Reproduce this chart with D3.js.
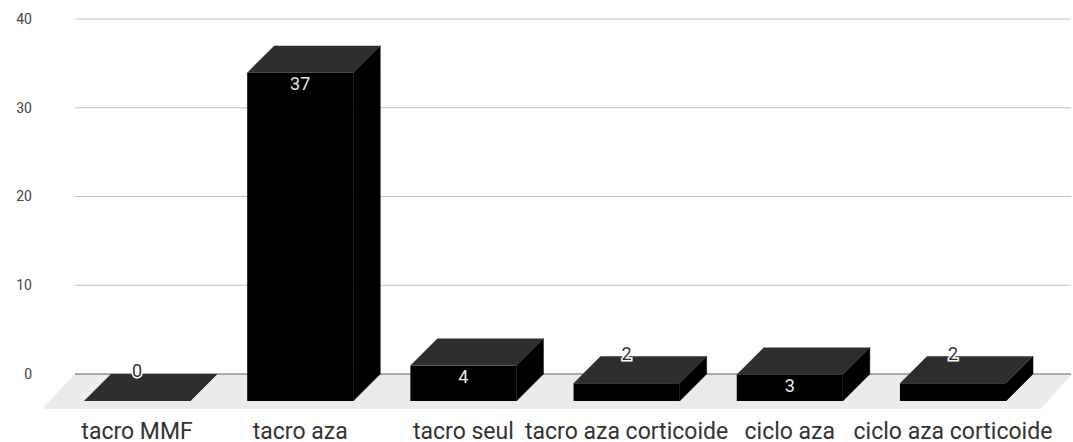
<!DOCTYPE html>
<html>
<head>
<meta charset="utf-8">
<script src="https://cdn.jsdelivr.net/npm/d3@7"></script>
<style>
  html, body { margin: 0; padding: 0; background: #fff; }
  svg { display: block; }
  text { font-family: Roboto, sans-serif; }
</style>
</head>
<body>
<script>
const categories = ["tacro MMF", "tacro aza", "tacro seul", "tacro aza corticoide", "ciclo aza", "ciclo aza corticoide"];
const values = [0, 37, 4, 2, 3, 2];
const yTicks = [0, 10, 20, 30, 40];

const width = 1073;
const height = 442;
const depth = 27; // 3d offset of the back wall
const floorY = 401;

const svg = d3.select("body").append("svg")
  .attr("width", width)
  .attr("height", height);

const x = d3.scaleBand()
  .domain(categories)
  .range([84, 1006])
  .paddingInner(0.35)
  .paddingOuter(0);

// front plane of the bars, the wall is the same scale moved by depth
const y = d3.scaleLinear().domain([0, 40]).range([floorY, floorY - 355]);

// floor
const floorPath = d3.path();
floorPath.moveTo(42, floorY + 8);
floorPath.lineTo(42 + 33, floorY - depth);
floorPath.lineTo(1072, floorY - depth);
floorPath.lineTo(1041, floorY + 8);
floorPath.closePath();
svg.append("path").attr("d", floorPath.toString()).attr("fill", "#ebebeb");

// gridlines and tick labels
const grid = svg.append("g");
grid.selectAll("line")
  .data(yTicks)
  .join("line")
  .attr("x1", 75)
  .attr("x2", 1071)
  .attr("y1", (d) => y(d) - depth)
  .attr("y2", (d) => y(d) - depth)
  .attr("stroke", (d) => (d === 0 ? "#5f5f5f" : "#c0c0c0"))
  .attr("stroke-width", 1);

grid.selectAll("text")
  .data(yTicks)
  .join("text")
  .attr("x", 32)
  .attr("y", (d) => y(d) - depth)
  .attr("dy", "0.35em")
  .attr("text-anchor", "end")
  .attr("font-size", 14)
  .attr("fill", "#444")
  .text((d) => d);

// bars
const bars = svg.append("g")
  .selectAll("g")
  .data(categories.map((c, i) => ({ name: c, value: values[i] })))
  .join("g");

const face = (pts) => "M" + pts.map((p) => p.join(",")).join("L") + "Z";

bars.append("path")
  .attr("fill", "#000")
  .attr("stroke", "#000")
  .attr("stroke-width", 0.5)
  .attr("d", (d) => {
    let x1 = x(d.name) + x.bandwidth();
    return face([[x1, y(d.value)], [x1 + depth, y(d.value) - depth], [x1 + depth, floorY - depth], [x1, floorY]]);
  });

bars.append("rect")
  .attr("fill", "#000")
  .attr("x", (d) => x(d.name))
  .attr("y", (d) => y(d.value))
  .attr("width", x.bandwidth())
  .attr("height", (d) => floorY - y(d.value));

bars.append("path")
  .attr("fill", "#2e2e2e")
  .attr("d", (d) => {
    let x0 = x(d.name);
    let x1 = x0 + x.bandwidth();
    let t = y(d.value);
    return face([[x0, t], [x0 + depth, t - depth], [x1 + depth, t - depth], [x1, t]]);
  });

// value labels: inside the front face when it is tall enough, else on the back edge
const inside = (d) => floorY - y(d.value) > 25;

bars.append("text")
  .attr("x", (d) => x(d.name) + x.bandwidth() / 2)
  .attr("y", (d) => (inside(d) ? y(d.value) + 11 : y(d.value) - 30))
  .attr("dy", "0.35em")
  .attr("text-anchor", "middle")
  .attr("font-size", 18)
  .attr("fill", (d) => (inside(d) ? "#e6e6e6" : "#333"))
  .attr("stroke", (d) => (inside(d) ? "none" : "#fff"))
  .attr("stroke-width", 3)
  .attr("paint-order", "stroke")
  .text((d) => d.value);

// category labels
svg.append("g")
  .selectAll("text")
  .data(categories)
  .join("text")
  .attr("x", (d) => x(d) + x.bandwidth() / 2)
  .attr("y", 431)
  .attr("dy", "0.35em")
  .attr("text-anchor", "middle")
  .attr("font-size", 23)
  .attr("fill", "#333")
  .text((d) => d);
</script>
</body>
</html>
